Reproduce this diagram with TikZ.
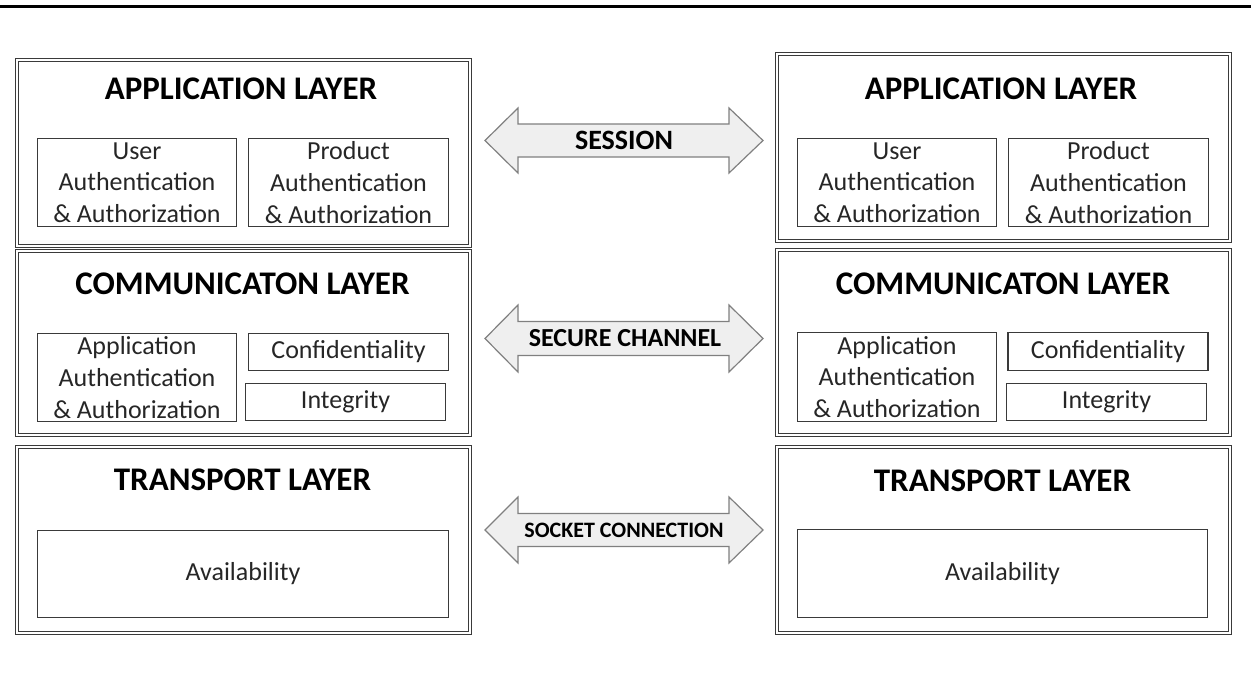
\documentclass[tikz,border=0pt]{standalone}
\usepackage{fontspec}
\setmainfont{Carlito}
\definecolor{boxgray}{HTML}{3A3A3A}
\definecolor{textgray}{HTML}{262626}
\definecolor{arrgray}{HTML}{808080}
\definecolor{arrfill}{HTML}{EFEFEF}
\newcommand\blockarrow[4]{% #1 name, #2 centre y, #3 shaft half height, #4 head half height
  \coordinate (#1L) at (485,#2);
  \coordinate (#1R) at (763,#2);
  \draw[arrowshape] (#1L) -- (518,#2-#4) -- (518,#2-#3) -- (729,#2-#3) -- (729,#2-#4)
     -- (#1R) -- (729,#2+#4) -- (729,#2+#3) -- (518,#2+#3) -- (518,#2+#4) -- cycle;}
\begin{document}
\begin{tikzpicture}[x=1pt,y=-1pt,
  layer/.style={draw=boxgray, double=white, double distance=1.6pt, line width=1.3pt,
    inner sep=0pt, minimum width=452.8pt},
  title/.style={font=\fontsize{33}{40}\selectfont\bfseries, text=black, anchor=base, inner sep=0pt},
  inbox/.style={draw=boxgray, line width=1.2pt, inner sep=0pt, align=center,
    font=\fontsize{26}{31.7}\selectfont, text=textgray},
  arrowshape/.style={draw=arrgray, fill=arrfill, line width=1.2pt, line join=miter},
  arrlabel/.style={text=black, inner sep=0pt}]
\useasboundingbox (0,0) rectangle (1251,675);
% top rule
\coordinate (ruleL) at (0,6.5);
\coordinate (ruleR) at (1251,6.5);
\draw[line width=3pt, black] (ruleL) -- (ruleR);

% ---------- left stack ----------
\node[layer, minimum height=185.8pt] (lapp) at (243.5,153) {};
\node[layer, minimum height=183.8pt] (lcom) at (243.5,343) {};
\node[layer, minimum height=185.8pt] (ltra) at (243.5,540) {};
\node[title] (lappt) at (241,99) {APPLICATION LAYER};
\node[title] (lcomt) at (242.5,294.5) {COMMUNICATON LAYER};
\node[title] (ltrat) at (242.5,490) {TRANSPORT LAYER};
\node[inbox, minimum width=199pt, minimum height=88pt] (luser) at (137,182.5) {User\\Authentication\\\& Authorization};
\node[inbox, minimum width=200pt, minimum height=88pt] (lprod) at (348.5,182.5) {Product\\Authentication\\\& Authorization};
\node[inbox, minimum width=199pt, minimum height=88pt] (laaa) at (137,377.5) {Application\\Authentication\\\& Authorization};
\node[inbox, minimum width=200pt, minimum height=37pt] (lconf) at (348.5,352) {Confidentiality};
\node[inbox, minimum width=200pt, minimum height=37pt] (linte) at (345.5,402) {Integrity};
\node[inbox, minimum width=411pt, minimum height=87pt] (lavai) at (243,574) {Availability};

% ---------- right stack ----------
\node[layer, minimum height=186.8pt] (rapp) at (1003.5,147.5) {};
\node[layer, minimum height=184.8pt] (rcom) at (1003.5,342.5) {};
\node[layer, minimum height=185.8pt] (rtra) at (1003.5,540) {};
\node[title] (rappt) at (1001,99) {APPLICATION LAYER};
\node[title] (rcomt) at (1003,294) {COMMUNICATON LAYER};
\node[title] (rtrat) at (1002.5,491) {TRANSPORT LAYER};
\node[inbox, minimum width=199pt, minimum height=88pt] (ruser) at (897,182.5) {User\\Authentication\\\& Authorization};
\node[inbox, minimum width=200pt, minimum height=88pt] (rprod) at (1108.5,182.5) {Product\\Authentication\\\& Authorization};
\node[inbox, minimum width=199pt, minimum height=89pt] (raaa) at (897,377) {Application\\Authentication\\\& Authorization};
\node[inbox, minimum width=200pt, minimum height=38pt] (rconf) at (1108,351.5) {Confidentiality};
\node[inbox, minimum width=200pt, minimum height=37pt] (rinte) at (1106.5,402) {Integrity};
\node[inbox, minimum width=410pt, minimum height=88pt] (ravai) at (1002.5,573.5) {Availability};

% ---------- block arrows ----------
\blockarrow{ses}{140.5}{16.5}{32.5}
\blockarrow{sec}{338.5}{17}{33.5}
\blockarrow{soc}{530}{16.5}{33}
\node[arrlabel, font=\fontsize{28}{34}\selectfont\bfseries] (sesl) at (624,140.8) {SESSION};
\node[arrlabel, font=\fontsize{26}{31}\selectfont\bfseries] (secl) at (625,337.7) {SECURE CHANNEL};
\node[arrlabel, font=\fontsize{22}{27}\selectfont\bfseries] (socl) at (624,530) {SOCKET CONNECTION};
\end{tikzpicture}
\end{document}
